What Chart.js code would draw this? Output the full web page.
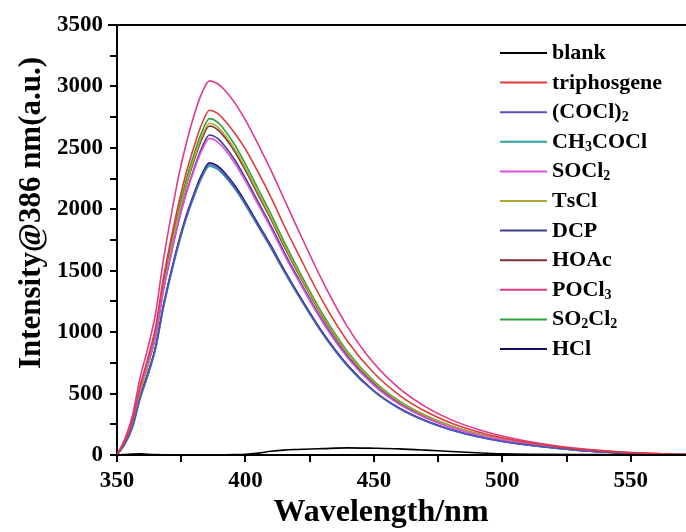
<!DOCTYPE html>
<html>
<head>
<meta charset="utf-8">
<script src="https://cdn.jsdelivr.net/npm/chart.js@4/dist/chart.umd.min.js"></script>
<style>
  html, body { margin: 0; padding: 0; background: #fff; }
  canvas { display: block; }
</style>
</head>
<body>
<canvas id="spec" width="686" height="532"></canvas>
<script>
// wavelength (nm) and intensity
var wavelength = [350, 353, 356, 359, 362, 365, 368, 371, 374, 377, 380, 383, 386, 389, 392, 396, 400, 405, 410, 415, 420, 430, 440, 450, 460, 470, 480, 490, 500, 515, 530, 545, 560, 572];

var blank       = [0, 3, 8, 10, 6, 3, 2, 2, 2, 2, 2, 2, 2, 2, 2, 3, 5, 15, 30, 40, 45, 52, 58, 55, 50, 40, 28, 18, 10, 6, 4, 3, 2, 2];
var triphosgene = [0, 112, 281, 561, 786, 1038, 1431, 1754, 2048, 2301, 2511, 2694, 2806, 2782, 2720, 2615, 2490, 2300, 2095, 1870, 1660, 1255, 918, 667, 486, 356, 261, 192, 140, 86, 47, 25, 11, 3];
var cocl2       = [0, 90, 230, 465, 655, 870, 1200, 1475, 1725, 1940, 2117, 2271, 2365, 2341, 2282, 2176, 2046, 1868, 1691, 1502, 1324, 993, 721, 520, 378, 279, 206, 151, 111, 69, 38, 19, 7, 2];
var ch3cocl     = [0, 85, 220, 455, 645, 860, 1190, 1465, 1712, 1927, 2103, 2256, 2350, 2327, 2268, 2162, 2033, 1857, 1680, 1492, 1316, 987, 717, 517, 376, 277, 204, 150, 110, 68, 38, 19, 7, 2];
var socl2       = [0, 115, 282, 545, 752, 982, 1338, 1635, 1902, 2128, 2318, 2479, 2577, 2551, 2487, 2371, 2229, 2036, 1843, 1636, 1443, 1082, 786, 567, 412, 304, 224, 165, 121, 75, 41, 21, 8, 3];
var tscl        = [0, 95, 245, 510, 730, 975, 1350, 1670, 1960, 2205, 2415, 2592, 2700, 2673, 2605, 2484, 2335, 2133, 1930, 1714, 1512, 1134, 823, 594, 432, 319, 235, 173, 127, 78, 43, 22, 8, 3];
var dcp         = [0, 104, 260, 521, 729, 964, 1329, 1628, 1902, 2136, 2332, 2501, 2605, 2579, 2514, 2397, 2253, 2058, 1863, 1654, 1459, 1094, 795, 573, 417, 307, 227, 167, 122, 76, 42, 21, 8, 3];
var hoac        = [0, 100, 255, 525, 745, 985, 1360, 1675, 1955, 2196, 2397, 2571, 2678, 2651, 2584, 2464, 2316, 2116, 1915, 1700, 1500, 1125, 817, 589, 428, 316, 233, 171, 126, 78, 43, 21, 8, 3];
var pocl3       = [0, 130, 320, 630, 870, 1150, 1580, 1940, 2270, 2540, 2765, 2945, 3045, 3024, 2969, 2862, 2725, 2527, 2314, 2086, 1857, 1416, 1035, 746, 540, 394, 288, 211, 155, 94, 52, 27, 12, 3];
var so2cl2      = [0, 110, 274, 548, 767, 1013, 1396, 1711, 1999, 2245, 2451, 2628, 2738, 2711, 2642, 2519, 2368, 2163, 1958, 1739, 1533, 1150, 835, 602, 438, 323, 238, 175, 129, 79, 44, 22, 8, 3];
var hcl         = [0, 95, 238, 476, 666, 880, 1213, 1487, 1737, 1951, 2129, 2284, 2379, 2355, 2296, 2189, 2058, 1879, 1701, 1511, 1332, 999, 726, 523, 381, 281, 207, 152, 112, 69, 38, 19, 7, 2];

var seriesNames = ['blank', 'triphosgene', '(COCl)₂', 'CH₃COCl', 'SOCl₂', 'TsCl', 'DCP', 'HOAc', 'POCl₃', 'SO₂Cl₂', 'HCl'];
var seriesData = [blank, triphosgene, cocl2, ch3cocl, socl2, tscl, dcp, hoac, pocl3, so2cl2, hcl];
var seriesColors = ['#000000', '#e03a3a', '#5a4fc0', '#2aa0a0', '#e050e0', '#b0a830', '#404088', '#803030', '#e0388c', '#30a040', '#101060'];

var xTicks = [350, 400, 450, 500, 550];
var yTicks = [0, 500, 1000, 1500, 2000, 2500, 3000, 3500];

var SERIF = '"Liberation Serif", "Times New Roman", serif';

var datasets = [];
for (var i = 0; i < seriesData.length; i++) {
    var pts = [];
    for (var j = 0; j < wavelength.length; j++) {
        pts.push({ x: wavelength[j], y: seriesData[i][j] });
    }
    datasets.push({
        label: seriesNames[i],
        data: pts,
        borderColor: seriesColors[i],
        backgroundColor: seriesColors[i],
        borderWidth: 1.6,
        pointRadius: 0,
        cubicInterpolationMode: 'monotone',
        fill: false
    });
}

// draws the top frame, axis titles and the legend box
var decor = {
    id: 'decor',
    afterDraw: function(chart) {
        var ctx = chart.ctx;
        var area = chart.chartArea;
        ctx.save();
        ctx.strokeStyle = '#000';
        ctx.lineWidth = 2;
        ctx.beginPath();
        ctx.moveTo(area.left - 9, area.top);
        ctx.lineTo(area.right, area.top);
        ctx.stroke();

        ctx.fillStyle = '#000';
        ctx.font = 'bold 32px ' + SERIF;
        ctx.textAlign = 'center';
        ctx.textBaseline = 'alphabetic';
        ctx.fillText('Wavelength/nm', 381, 521);

        ctx.save();
        ctx.translate(40, 213);
        ctx.rotate(-Math.PI / 2);
        ctx.font = 'bold 31px ' + SERIF;
        ctx.fillText('Intensity@386 nm(a.u.)', 0, 0);
        ctx.restore();

        var subs = '₀₁₂₃₄₅₆₇₈₉';
        ctx.textAlign = 'left';
        for (var k = 0; k < seriesNames.length; k++) {
            var ly = 53 + k * 29.6;
            ctx.strokeStyle = seriesColors[k];
            ctx.lineWidth = 2;
            ctx.beginPath();
            ctx.moveTo(500, ly);
            ctx.lineTo(547, ly);
            ctx.stroke();

            var tx = 552;
            var name = seriesNames[k];
            for (var c = 0; c < name.length; c++) {
                var ch = name[c];
                var si = subs.indexOf(ch);
                if (si >= 0) {
                    ctx.font = 'bold 14px ' + SERIF;
                    ctx.fillText(String(si), tx, ly + 9);
                    tx += ctx.measureText(String(si)).width;
                } else {
                    ctx.font = 'bold 22px ' + SERIF;
                    ctx.fillText(ch, tx, ly + 6);
                    tx += ctx.measureText(ch).width;
                }
            }
        }
        ctx.restore();
    }
};

new Chart(document.getElementById('spec'), {
    type: 'line',
    data: { datasets: datasets },
    options: {
        responsive: false,
        animation: false,
        layout: { padding: { left: 0, top: 25, right: 0, bottom: 0 } },
        plugins: {
            legend: { display: false },
            tooltip: { enabled: false }
        },
        scales: {
            x: {
                type: 'linear',
                min: 350,
                max: 571.5,
                afterFit: function(s) { s.height = 77; },
                border: { color: '#000', width: 2 },
                grid: { drawOnChartArea: false, drawTicks: true, tickLength: 7, color: '#000', lineWidth: 2 },
                ticks: {
                    stepSize: 25,
                    includeBounds: false,
                    maxRotation: 0,
                    autoSkip: false,
                    padding: 5,
                    color: '#000',
                    font: { family: SERIF, size: 23, weight: 'bold' },
                    callback: function(v) { return xTicks.indexOf(v) >= 0 ? String(v) : ''; }
                }
            },
            y: {
                min: 0,
                max: 3500,
                afterFit: function(s) { s.width = 117; },
                border: { color: '#000', width: 2 },
                grid: { drawOnChartArea: false, drawTicks: true, tickLength: 7, color: '#000', lineWidth: 2 },
                ticks: {
                    stepSize: 250,
                    autoSkip: false,
                    padding: 7,
                    color: '#000',
                    font: { family: SERIF, size: 23, weight: 'bold' },
                    callback: function(v) { return yTicks.indexOf(v) >= 0 ? String(v) : ''; }
                }
            }
        }
    },
    plugins: [decor]
});
</script>
</body>
</html>
